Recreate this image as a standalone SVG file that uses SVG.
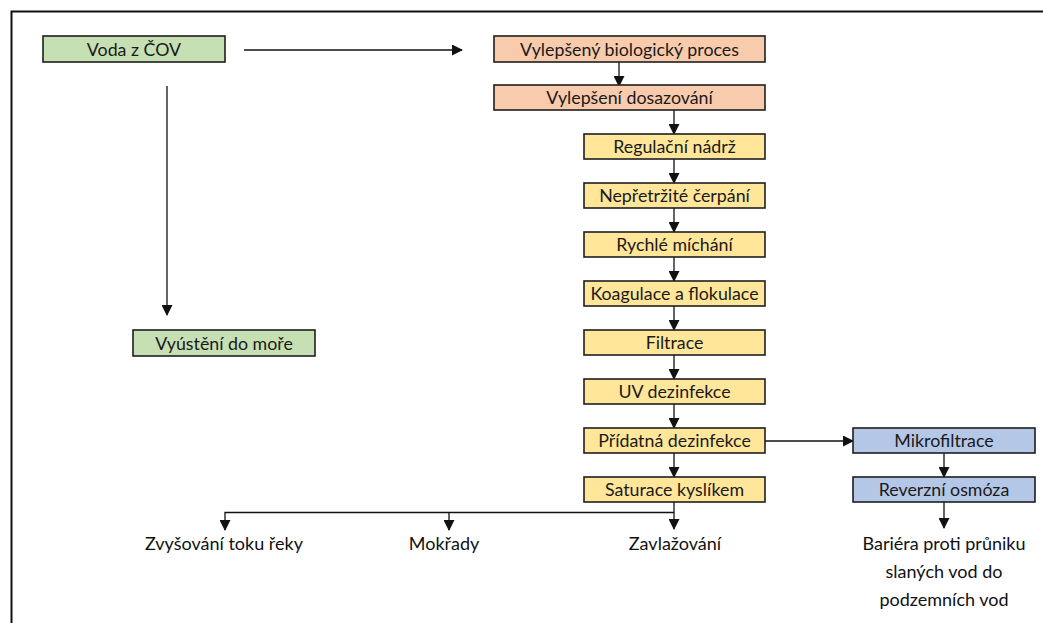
<svg xmlns="http://www.w3.org/2000/svg" width="1043" height="623" viewBox="0 0 1043 623">
<style>
.box{stroke:#1e1e1e;stroke-width:1.6}
.g{fill:#c6e0b4}.o{fill:#f8cbad}.y{fill:#ffe699}.b{fill:#b4c7e7}
text{font-family:Lato,"Liberation Sans",sans-serif;font-size:17.8px;fill:#1a1a1a;text-anchor:middle}
.lbl{font-size:18px;fill:#111}
.c{stroke:#111;stroke-width:1.3;fill:none}
</style>
<defs>
<marker id="ah" markerWidth="11" markerHeight="11" refX="10" refY="5.5" orient="auto" markerUnits="userSpaceOnUse">
<path d="M0,0 L11,5.5 L0,11 Z" fill="#111"/>
</marker>
</defs>
<rect width="1043" height="623" fill="#fff"/>
<path d="M11.5,623 V11.5 H1043" fill="none" stroke="#111" stroke-width="2"/>

<g id="connectors">
<line class="c" x1="244" y1="50" x2="462" y2="50" marker-end="url(#ah)"/>
<line class="c" x1="167" y1="86" x2="167" y2="315" marker-end="url(#ah)"/>
<line class="c" x1="619" y1="62" x2="619" y2="86" marker-end="url(#ah)"/>
<line class="c" x1="674" y1="110" x2="674" y2="134" marker-end="url(#ah)"/>
<line class="c" x1="674" y1="159" x2="674" y2="183" marker-end="url(#ah)"/>
<line class="c" x1="674" y1="208" x2="674" y2="232" marker-end="url(#ah)"/>
<line class="c" x1="674" y1="257" x2="674" y2="281" marker-end="url(#ah)"/>
<line class="c" x1="674" y1="306" x2="674" y2="330" marker-end="url(#ah)"/>
<line class="c" x1="674" y1="355" x2="674" y2="379" marker-end="url(#ah)"/>
<line class="c" x1="674" y1="404" x2="674" y2="428" marker-end="url(#ah)"/>
<line class="c" x1="674" y1="453" x2="674" y2="477" marker-end="url(#ah)"/>
<line class="c" x1="765" y1="441" x2="853" y2="441" marker-end="url(#ah)"/>
<line class="c" x1="944" y1="453" x2="944" y2="477" marker-end="url(#ah)"/>
<line class="c" x1="944" y1="502" x2="944" y2="528" marker-end="url(#ah)"/>
<line class="c" x1="674" y1="502" x2="674" y2="529" marker-end="url(#ah)"/>
<path class="c" d="M674,512.5 H225 V530" marker-end="url(#ah)"/>
<line class="c" x1="449" y1="512.5" x2="449" y2="530" marker-end="url(#ah)"/>
</g>

<g id="n-voda"><rect class="box g" x="43" y="36" width="182" height="26"/><text x="134" y="55.5">Voda z ČOV</text></g>
<g id="n-vyusteni"><rect class="box g" x="133" y="330" width="182" height="26"/><text x="224" y="349.5">Vyústění do moře</text></g>
<g id="n-bio"><rect class="box o" x="494" y="36" width="271" height="26"/><text x="629.5" y="55.5">Vylepšený biologický proces</text></g>
<g id="n-dos"><rect class="box o" x="494" y="85" width="271" height="25"/><text x="629.5" y="104">Vylepšení dosazování</text></g>
<g id="n-reg"><rect class="box y" x="584" y="134" width="181" height="25"/><text x="674.5" y="153">Regulační nádrž</text></g>
<g id="n-cerp"><rect class="box y" x="584" y="183" width="181" height="25"/><text x="674.5" y="202">Nepřetržité čerpání</text></g>
<g id="n-mich"><rect class="box y" x="584" y="232" width="181" height="25"/><text x="674.5" y="251">Rychlé míchání</text></g>
<g id="n-koag"><rect class="box y" x="584" y="281" width="181" height="25"/><text x="674.5" y="300">Koagulace a flokulace</text></g>
<g id="n-filt"><rect class="box y" x="584" y="330" width="181" height="25"/><text x="674.5" y="349">Filtrace</text></g>
<g id="n-uv"><rect class="box y" x="584" y="379" width="181" height="25"/><text x="674.5" y="398">UV dezinfekce</text></g>
<g id="n-prid"><rect class="box y" x="584" y="428" width="181" height="25"/><text x="674.5" y="447">Přídatná dezinfekce</text></g>
<g id="n-sat"><rect class="box y" x="584" y="477" width="181" height="25"/><text x="674.5" y="496">Saturace kyslíkem</text></g>
<g id="n-mikro"><rect class="box b" x="853" y="428" width="182" height="25"/><text x="944" y="447">Mikrofiltrace</text></g>
<g id="n-ro"><rect class="box b" x="853" y="477" width="182" height="25"/><text x="944" y="496">Reverzní osmóza</text></g>
<g id="n-reka"><text class="lbl" x="224" y="550">Zvyšování toku řeky</text></g>
<g id="n-mokrady"><text class="lbl" x="444" y="550">Mokřady</text></g>
<g id="n-zavl"><text class="lbl" x="675" y="550">Zavlažování</text></g>
<g id="n-bariera"><text class="lbl" x="944" y="550">Bariéra proti průniku</text><text class="lbl" x="944" y="578">slaných vod do</text><text class="lbl" x="944" y="606">podzemních vod</text></g>
</svg>
